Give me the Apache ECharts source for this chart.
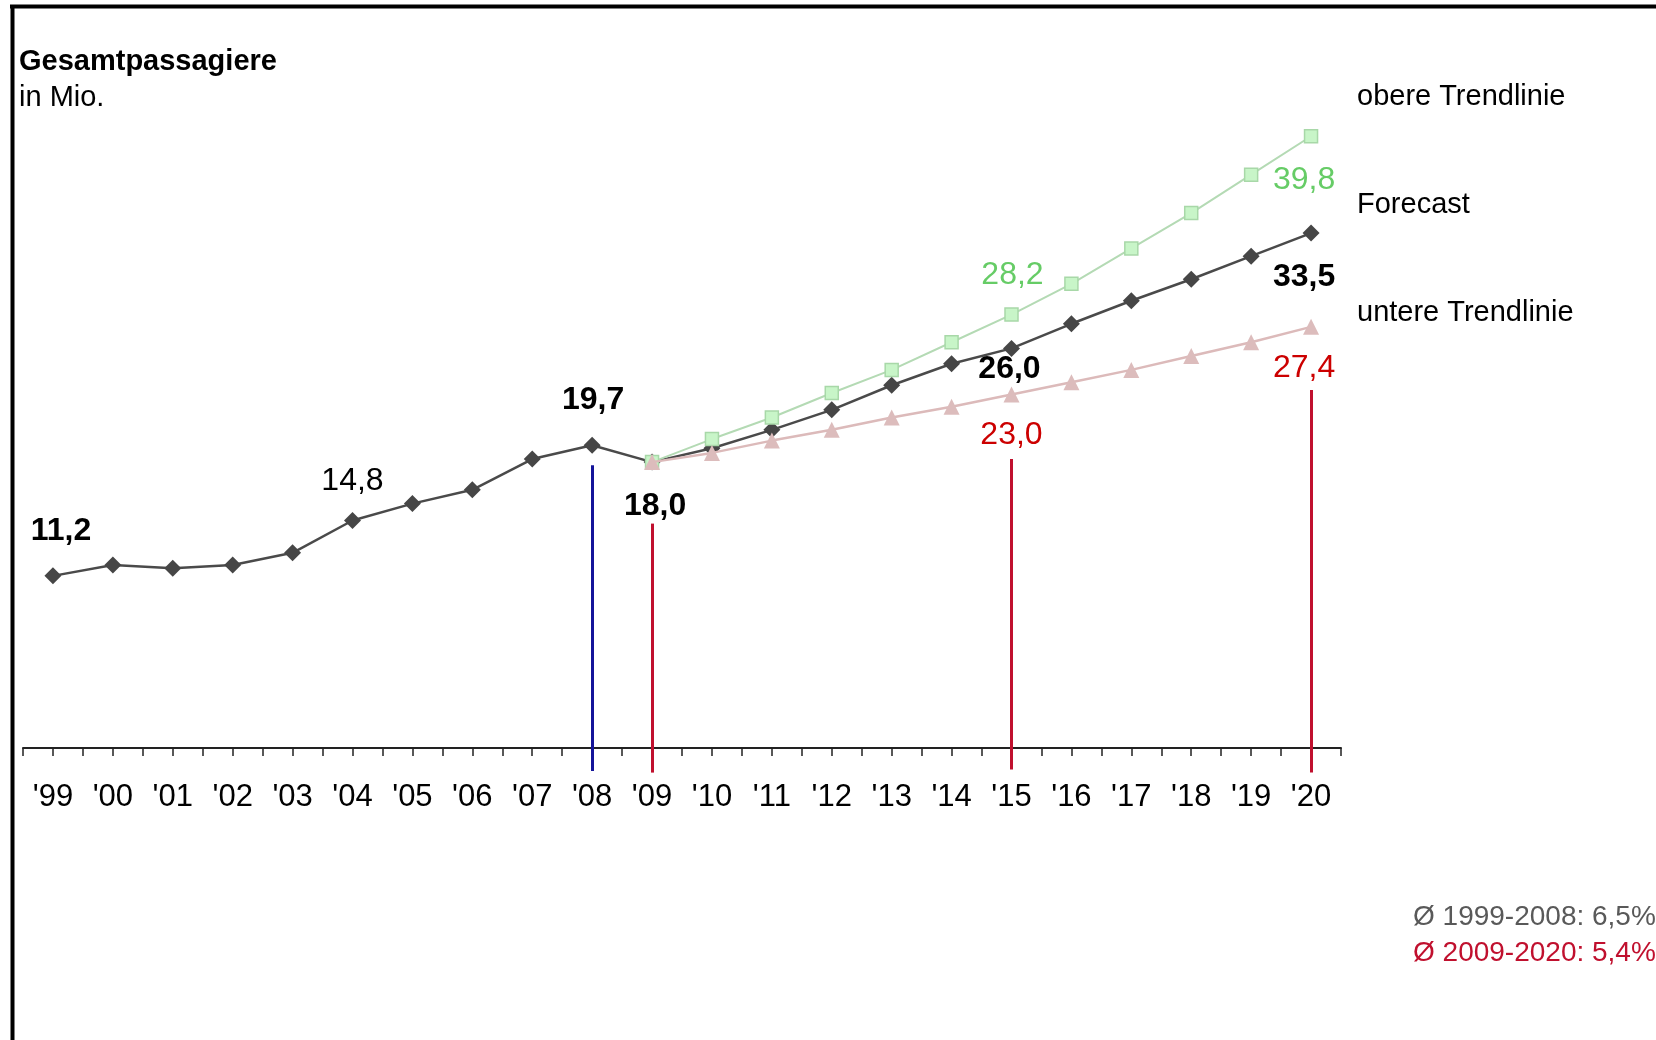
<!DOCTYPE html>
<html><head><meta charset="utf-8">
<script src="https://cdn.jsdelivr.net/npm/echarts@6/dist/echarts.min.js"></script>
<style>html,body{margin:0;padding:0;background:#fff}#c{width:1656px;height:1040px}</style>
</head><body><div id="c"></div>
<script>
// ---- data ----
const years = ["'99","'00","'01","'02","'03","'04","'05","'06","'07","'08","'09","'10","'11","'12","'13","'14","'15","'16","'17","'18","'19","'20"];
const gesamt = [11.2, 11.9, 11.7, 11.9, 12.7, 14.8, 15.9, 16.8, 18.8, 19.7, 18.6, 19.5, 20.7, 22.0, 23.6, 25.0, 26.0, 27.6, 29.1, 30.5, 32.0, 33.5];
const obere  = [null, null, null, null, null, null, null, null, null, null, 18.6, 20.1, 21.5, 23.1, 24.6, 26.4, 28.2, 30.2, 32.5, 34.8, 37.3, 39.8];
const untere = [null, null, null, null, null, null, null, null, null, null, 18.6, 19.2, 20.0, 20.7, 21.5, 22.2, 23.0, 23.8, 24.6, 25.5, 26.4, 27.4];
const gesamtLabelText = {0: '11,2', 5: '14,8', 9: '19,7', 10: '18,0', 16: '26,0', 21: '33,5'};
const obereLabelText  = {16: '28,2', 21: '39,8'};
const untereLabelText = {16: '23,0', 21: '27,4'};
const markerIdx    = [9, 10, 16, 21];
const markerTop    = [18.4, 14.6, 18.8, 23.3];
const markerBottom = [-1.5, -1.6, -1.4, -1.6];
const seriesNames = ['obere Trendlinie', 'Forecast', 'untere Trendlinie'];
const averages = ['\u00D8 1999-2008: 6,5%', '\u00D8 2009-2020: 5,4%'];
const titleLines = ['Gesamtpassagiere', 'in Mio.'];

// ---- styles ----
const FF = 'Liberation Sans, Arial, sans-serif';
const GREEN_TXT = '#66cc66', RED_TXT = '#cc0000', RED_LINE = '#c0102e', BLUE_LINE = '#14149a';
const labelPlace = {
  g: {0: [8, -45, 'bold'], 5: [0, -39, 'normal'], 9: [1, -45, 'bold'], 10: [3, 44, 'bold'], 16: [-2, 21, 'bold'], 21: [-7, 44, 'bold']},
  o: {16: [1, -39], 21: [-7, 44]},
  u: {16: [0, 41], 21: [-7, 41]}
};
const markerColor = [BLUE_LINE, RED_LINE, RED_LINE, RED_LINE];

function build(arr, texts, place, color, defWeight) {
  return arr.map((v, i) => {
    if (v == null) return [i, null];
    const item = {value: [i, v]};
    if (texts[i] != null) {
      const p = place[i];
      item.label = {
        show: true, position: 'inside', offset: [p[0], p[1]],
        formatter: texts[i], color: color, fontSize: 32, fontFamily: FF,
        fontWeight: p[2] || defWeight
      };
    }
    return item;
  });
}

const chart = echarts.init(document.getElementById('c'), null, {renderer: 'canvas'});
const unit = 15.37, zeroY = 748, yMin = -2, yMax = 45;
const gridTop = zeroY - yMax * unit;
const gridBottomPx = zeroY - yMin * unit;

chart.setOption({
  animation: false,
  backgroundColor: '#fff',
  grid: {left: 23, right: 1656 - 1341, top: gridTop, bottom: 1040 - gridBottomPx, containLabel: false},
  xAxis: {
    type: 'value', min: -0.5, max: 21.5, interval: 0.5,
    splitLine: {show: false},
    axisLine: {show: true, onZero: true, lineStyle: {color: '#222', width: 2}},
    axisTick: {show: true, length: 8, inside: false, lineStyle: {color: '#222', width: 1.5}},
    axisLabel: {
      margin: 3, fontSize: 31, fontFamily: FF, color: '#000', showMinLabel: true, showMaxLabel: true,
      formatter: v => (Math.abs(v - Math.round(v)) < 1e-6 && years[Math.round(v)] !== undefined) ? years[Math.round(v)] : ''
    }
  },
  yAxis: {type: 'value', min: yMin, max: yMax, show: false, splitLine: {show: false}},
  series: [
    {
      type: 'line', name: seriesNames[1], data: build(gesamt, gesamtLabelText, labelPlace.g, '#000', 'bold'),
      symbol: 'diamond', symbolSize: 17, itemStyle: {color: '#464646'},
      lineStyle: {color: '#4a4a4a', width: 2.5}, z: 2,
      markLine: {
        silent: true, symbol: 'none', label: {show: false},
        data: markerIdx.map((x, k) => [
          {coord: [x, markerTop[k]], lineStyle: {color: markerColor[k], width: 3, type: 'solid'}},
          {coord: [x, markerBottom[k]]}
        ])
      }
    },
    {
      type: 'line', name: seriesNames[0], data: build(obere, obereLabelText, labelPlace.o, GREEN_TXT, 'normal'),
      symbol: 'rect', symbolSize: 13, itemStyle: {color: '#c8f5c8', borderColor: '#a8d8a8', borderWidth: 1.5},
      lineStyle: {color: '#b4dab4', width: 2}, z: 3
    },
    {
      type: 'line', name: seriesNames[2], data: build(untere, untereLabelText, labelPlace.u, RED_TXT, 'normal'),
      symbol: 'triangle', symbolSize: 16, itemStyle: {color: '#dcbcbc'},
      lineStyle: {color: '#dcbaba', width: 2.5}, z: 4
    }
  ],
  graphic: [
    {type: 'line', shape: {x1: 10, y1: 6.5, x2: 1656, y2: 6.5}, style: {stroke: '#000', lineWidth: 4}, silent: true},
    {type: 'line', shape: {x1: 12.5, y1: 5, x2: 12.5, y2: 1040}, style: {stroke: '#000', lineWidth: 4}, silent: true},
    {type: 'text', x: 19, y: 62, style: {text: titleLines[0], fontSize: 29, fontWeight: 'bold', fontFamily: FF, fill: '#000', verticalAlign: 'middle'}},
    {type: 'text', x: 19, y: 98, style: {text: titleLines[1], fontSize: 29, fontFamily: FF, fill: '#000', verticalAlign: 'middle'}},
    {type: 'text', x: 1357, y: 97, style: {text: seriesNames[0], fontSize: 29, fontFamily: FF, fill: '#000', verticalAlign: 'middle'}},
    {type: 'text', x: 1357, y: 205, style: {text: seriesNames[1], fontSize: 29, fontFamily: FF, fill: '#000', verticalAlign: 'middle'}},
    {type: 'text', x: 1357, y: 313, style: {text: seriesNames[2], fontSize: 29, fontFamily: FF, fill: '#000', verticalAlign: 'middle'}},
    {type: 'text', x: 1413, y: 917, style: {text: averages[0], fontSize: 28, fontFamily: FF, fill: '#595959', verticalAlign: 'middle'}},
    {type: 'text', x: 1413, y: 953, style: {text: averages[1], fontSize: 28, fontFamily: FF, fill: RED_LINE, verticalAlign: 'middle'}}
  ]
});
</script>
</body></html>
